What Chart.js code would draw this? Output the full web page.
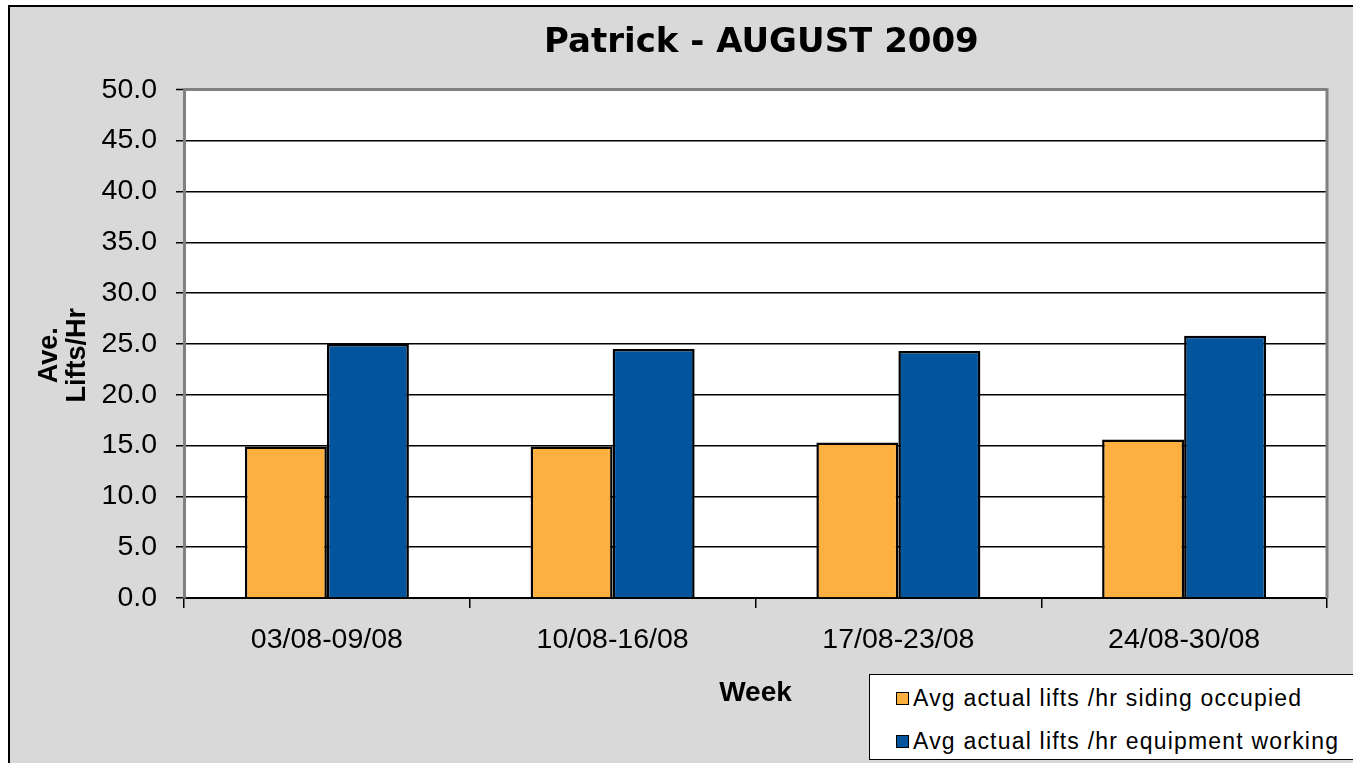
<!DOCTYPE html>
<html>
<head>
<meta charset="utf-8">
<script src="https://cdn.jsdelivr.net/npm/chart.js@4.4.1/dist/chart.umd.min.js"></script>
<style>
  html, body { margin: 0; padding: 0; background: #fff; overflow: hidden; }
  #frame { position: absolute; left: 8px; top: 5px; width: 1360px; height: 770px;
           background: #d9d9d9; border-left: 2px solid #000; border-top: 2px solid #000; }
  #wrap { position: absolute; left: 0; top: 0; width: 1353px; height: 763px; }
  #legend { position: absolute; left: 869px; top: 674px; width: 500px; height: 84px;
            background: #fff; border: 1.5px solid #000; font: 23px "Liberation Sans", Arial, sans-serif;
            letter-spacing: 1.2px; color: #000; }
  #legend .item { position: absolute; left: 26px; height: 30px; line-height: 30px; white-space: nowrap; }
  #legend .sw { display: inline-block; width: 11px; height: 11px; border: 1.5px solid #000;
                margin-right: 4px; vertical-align: 1px; }
</style>
</head>
<body>
<div id="frame"></div>
<div id="wrap"><canvas id="liftsChart" width="1353" height="763"></canvas></div>
<div id="legend"></div>
<script>
var weeks = ['03/08-09/08', '10/08-16/08', '17/08-23/08', '24/08-30/08'];
var sidingOccupied = [14.9, 14.9, 15.3, 15.6];
var equipmentWorking = [25.0, 24.5, 24.3, 25.8];
var seriesNames = ['Avg actual lifts /hr siding occupied', 'Avg actual lifts /hr equipment working'];
var seriesColors = ['#fdb03f', '#02549d'];

// white plot area + grey right edge
var plotFrame = {
  id: 'plotFrame',
  beforeDraw: function(chart) {
    var a = chart.chartArea, ctx = chart.ctx;
    ctx.save();
    ctx.fillStyle = '#fff';
    ctx.fillRect(a.left, a.top, a.right - a.left, a.bottom - a.top);
    ctx.restore();
  },
  afterDraw: function(chart) {
    var a = chart.chartArea, ctx = chart.ctx;
    ctx.save();
    ctx.strokeStyle = '#808080';
    ctx.lineWidth = 3;
    ctx.beginPath();
    ctx.moveTo(a.right, a.top - 1.5);
    ctx.lineTo(a.right, a.bottom);
    ctx.stroke();
    ctx.restore();
  }
};

var ctx = document.getElementById('liftsChart');
var liftsChart = new Chart(ctx, {
  type: 'bar',
  data: {
    labels: weeks,
    datasets: [{
      label: seriesNames[0],
      data: sidingOccupied,
      backgroundColor: seriesColors[0],
      borderColor: '#000',
      borderWidth: 2.5
    }, {
      label: seriesNames[1],
      data: equipmentWorking,
      backgroundColor: seriesColors[1],
      borderColor: '#000',
      borderWidth: 2.5
    }]
  },
  options: {
    responsive: false,
    animation: false,
    layout: { padding: { left: 0, top: 0, right: 26, bottom: 0 } },
    datasets: { bar: { categoryPercentage: 0.574, barPercentage: 1.0 } },
    plugins: {
      legend: { display: false },
      tooltip: { enabled: false },
      title: {
        display: true,
        fullSize: false,
        text: ' Patrick - AUGUST 2009',
        color: '#000',
        font: { family: 'DejaVu Sans', size: 34, weight: 'bold', lineHeight: 1.2 },
        padding: { top: 23, bottom: 26 }
      }
    },
    scales: {
      x: {
        afterFit: function(scale) { scale.height = 165; },
        grid: { offset: true, drawOnChartArea: false, drawTicks: true, tickLength: 10, color: '#000', lineWidth: 1.5 },
        border: { display: true, color: '#000', width: 2 },
        ticks: { color: '#000', padding: 15, maxRotation: 0,
                 font: { family: 'Liberation Sans', size: 28.5 } },
        title: { display: true, text: 'Week', color: '#000',
                 font: { family: 'Liberation Sans', size: 28, weight: 'bold', lineHeight: 1.2 },
                 padding: { top: 0, bottom: 53 } }
      },
      y: {
        min: 0,
        max: 50,
        afterFit: function(scale) { scale.width = 184; },
        grid: {
          color: function(c) { return c.tick && c.tick.value === 50 ? '#808080' : '#000'; },
          lineWidth: function(c) { return c.tick && c.tick.value === 50 ? 3 : 1.5; },
          tickColor: '#000',
          tickWidth: 1.5,
          tickLength: 8
        },
        border: { display: true, color: '#808080', width: 3 },
        ticks: { stepSize: 5, color: '#000', padding: 19,
                 font: { family: 'Liberation Sans', size: 28.5 },
                 callback: function(v) { return v.toFixed(1); } },
        title: { display: true, text: ['Ave.   ', 'Lifts/Hr   '], color: '#000',
                 font: { family: 'Liberation Sans', size: 27, weight: 'bold', lineHeight: 1.05 },
                 padding: { top: 35, bottom: 0 } }
      }
    }
  },
  plugins: [plotFrame]
});

// legend box built from the datasets
var legend = document.getElementById('legend');
liftsChart.data.datasets.forEach(function(ds, i) {
  var item = document.createElement('div');
  item.className = 'item';
  item.style.top = (8 + i * 43) + 'px';
  var sw = document.createElement('span');
  sw.className = 'sw';
  sw.style.background = ds.backgroundColor;
  item.appendChild(sw);
  item.appendChild(document.createTextNode(ds.label));
  legend.appendChild(item);
});
</script>
</body>
</html>
